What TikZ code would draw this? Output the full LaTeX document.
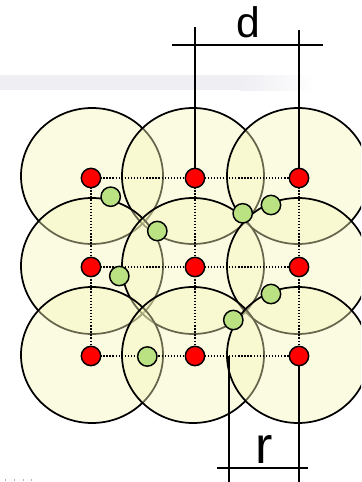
\documentclass[tikz,border=0pt]{standalone}
\usepackage{fontspec}
\setmainfont{Liberation Sans}
\definecolor{bandgray}{RGB}{238,238,243}
\definecolor{ringfill}{RGB}{245,245,185}
\definecolor{atomred}{RGB}{255,0,0}
\definecolor{atomgreen}{RGB}{186,226,130}
\begin{document}
\begin{tikzpicture}[x=0.75pt,y=-0.75pt,
  ring/.style={draw=black,line width=1.3pt,fill=ringfill,fill opacity=0.42},
  grid/.style={line width=1.1pt,dash pattern=on 1pt off 1.3pt},
  dim/.style={line width=1.1pt,draw=black},
  reddot/.style={circle,draw=black,line width=1.1pt,fill=atomred,minimum size=14.5pt,inner sep=0pt},
  greendot/.style={circle,draw=black,line width=1.1pt,fill=atomgreen,minimum size=14.5pt,inner sep=0pt},
  lbl/.style={inner sep=0pt,anchor=base}]
\useasboundingbox (0,0) rectangle (361,482);
\clip (0,0) rectangle (361,482);
% grey band
\fill[bandgray] (0,75) rectangle (240,90);
\shade[left color=bandgray,right color=white] (239.5,75) rectangle (315,90);
% lattice coordinates
\foreach \i/\y in {1/178,2/267,3/356}{
  \foreach \j/\x in {1/91,2/195,3/299}{
    \coordinate (c\i\j) at (\x,\y);
  }
}
% circles
\foreach \y in {176,266,355}{
  \foreach \x in {92,193,298}{
    \draw[ring] (\x,\y) ellipse [x radius=71,y radius=68];
  }
}
% dotted lattice
\foreach \i in {1,2,3}{
  \draw[grid] (c\i1) -- (c\i3);
  \draw[grid] (c1\i) -- (c3\i);
}
% dimension lines
\coordinate (dl) at (195,27);
\coordinate (dr) at (299,30);
\coordinate (dh1) at (172,45);
\coordinate (dh2) at (323,45);
\coordinate (rl1) at (229,356);
\coordinate (rl2) at (229,482);
\coordinate (rr) at (299,482);
\coordinate (rh1) at (217,468);
\coordinate (rh2) at (308,468);
\draw[dim] (dl) -- (c12);
\draw[dim] (dr) -- (c13);
\draw[dim] (dh1) -- (dh2);
\draw[dim] (rl1) -- (rl2);
\draw[dim] (c33) -- (rr);
\draw[dim] (rh1) -- (rh2);
% red atoms
\foreach \i in {1,2,3}{
  \foreach \j in {1,2,3}{
    \node[reddot] (a\i\j) at (c\i\j) {};
  }
}
% green atoms
\node[greendot] (g1) at (110.7,196.7) {};
\node[greendot] (g2) at (157.3,231) {};
\node[greendot] (g3) at (242.7,213.3) {};
\node[greendot] (g4) at (271,205) {};
\node[greendot] (g5) at (119.3,276) {};
\node[greendot] (g6) at (271,294) {};
\node[greendot] (g7) at (233.3,320) {};
\node[greendot] (g8) at (147.3,356.5) {};
% labels
\node[lbl,font=\fontsize{32}{32}\selectfont] (dlab) at (248,37) {d};
\node[lbl,font=\fontsize{39}{39}\selectfont] (rlab) at (264,463) {r};
% specks
\foreach \x in {5,14,23,31}{
  \fill[gray!60] (\x,479) rectangle (\x+1.3,480.5);
}
\end{tikzpicture}
\end{document}
